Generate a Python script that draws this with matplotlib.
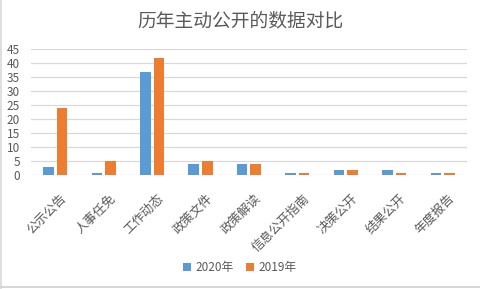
import numpy as np
import matplotlib
matplotlib.use("Agg")
import matplotlib.pyplot as plt
import matplotlib.transforms as mtransforms
from matplotlib.lines import Line2D

plt.rcParams['font.family'] = ['Noto Sans CJK SC', 'DejaVu Sans']

categories = ["公示公告", "人事任免", "工作动态", "政策文件", "政策解读",
              "信息公开指南", "决策公开", "结果公开", "年度报告"]
v2020 = [3, 1, 37, 4, 4, 1, 2, 2, 1]
v2019 = [24, 5, 42, 5, 4, 1, 2, 1, 1]

gray = "#595959"
fig = plt.figure(figsize=(4.8, 2.89), dpi=100)
ax = fig.add_axes([0.0646, 0.393, 0.908, 0.436])

x = np.arange(len(categories))
w = 0.22
ax.bar(x - 0.14, v2020, w, color="#5B9BD5", label="2020年", zorder=3)
ax.bar(x + 0.14, v2019, w, color="#ED7D31", label="2019年", zorder=3)

ax.set_xlim(-0.5, len(categories) - 0.5)
ax.set_ylim(0, 45)
ax.set_yticks(range(0, 46, 5))
ax.yaxis.grid(True, color="#D9D9D9", lw=0.9, zorder=0)
for s in ax.spines.values():
    s.set_visible(False)
ax.tick_params(length=0, colors=gray, labelsize=8.5)
ax.tick_params(axis="y", pad=8)
ax.set_xticks(x)
ax.set_xticklabels(categories, rotation=45, ha="right", rotation_mode="anchor",
                   fontsize=9, color=gray)
ax.tick_params(axis="x", pad=12)
shift = mtransforms.ScaledTranslation(5 / 100, 0, fig.dpi_scale_trans)
for lab in ax.get_xticklabels():
    lab.set_transform(lab.get_transform() + shift)

fig.suptitle("历年主动公开的数据对比", y=0.965, fontsize=13.5, color=gray)
fig.legend(loc="center", bbox_to_anchor=(0.5, 0.075), ncol=2, frameon=False,
           fontsize=8.5, handlelength=0.7, handleheight=0.7, columnspacing=1.0,
           handletextpad=0.4, labelcolor=gray)

fig.add_artist(Line2D([0.003, 0.003], [0.0, 1.0], color="#D9D9D9", lw=1.2))
fig.add_artist(Line2D([0.0, 1.0], [0.008, 0.008], color="#D0D0D0", lw=1.2))

fig.savefig("out.png", dpi=100)
